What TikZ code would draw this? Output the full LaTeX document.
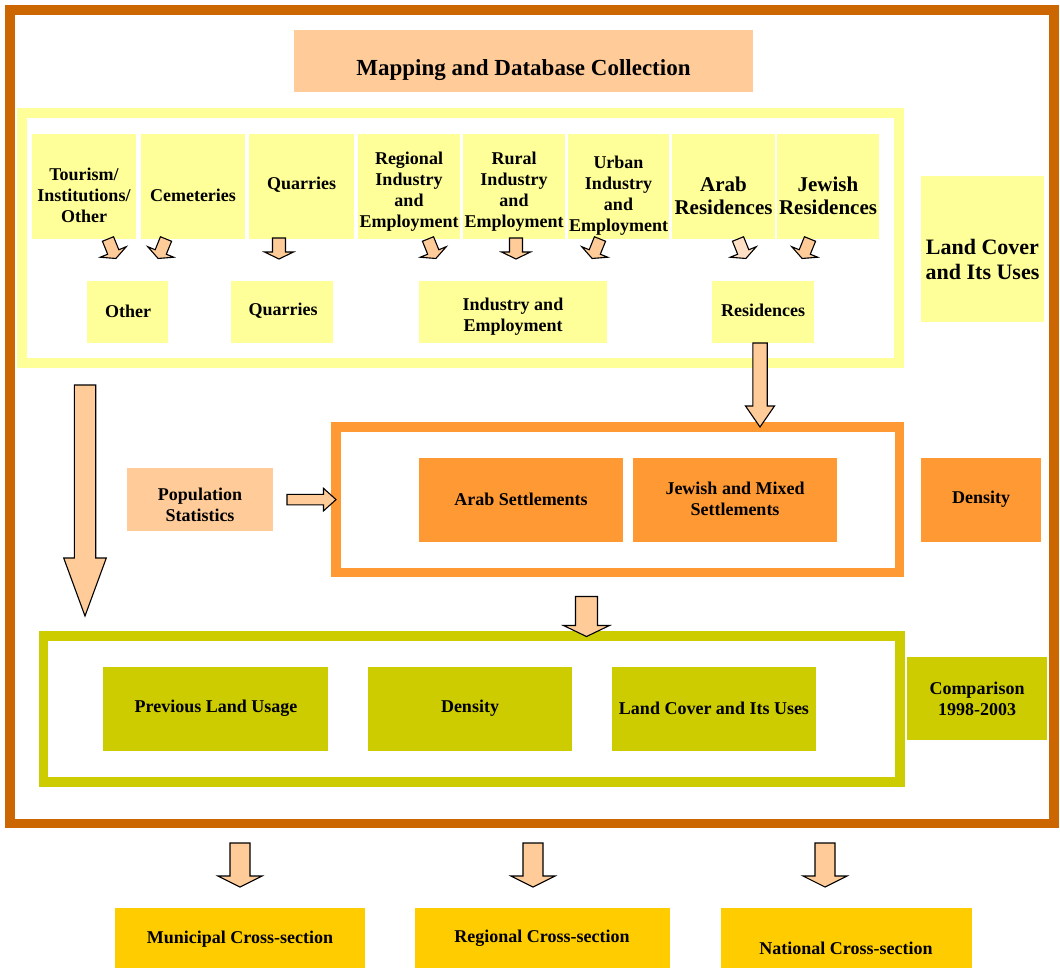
\documentclass[tikz,border=0pt]{standalone}
\usepackage{fontspec}
\setmainfont{Liberation Serif}
\definecolor{frameBrown}{HTML}{CC6600}
\definecolor{peach}{HTML}{FFCC99}
\definecolor{peachLight}{HTML}{FFE0C4}
\definecolor{lightYellow}{HTML}{FFFF99}
\definecolor{midOrange}{HTML}{FF9933}
\definecolor{oliveGreen}{HTML}{CCCC00}
\definecolor{goldBox}{HTML}{FFCC00}
\tikzset{
  box/.style n args={3}{fill=#1, draw=none, minimum width=#2, minimum height=#3, inner sep=0pt, outer sep=0pt},
  frame/.style n args={4}{draw=#1, line width=#2, minimum width=#3, minimum height=#4, inner sep=0pt, fill=none},
  txt/.style={font=\fontsize{18}{21}\selectfont\bfseries, align=center, inner sep=0pt, text=black, yshift=-2pt},
  bigtxt/.style={font=\fontsize{21}{22.7}\selectfont\bfseries, align=center, inner sep=0pt, text=black, yshift=-1pt},
  lctxt/.style={font=\fontsize{22}{25}\selectfont\bfseries, align=center, inner sep=0pt, text=black, yshift=-1pt},
  titletxt/.style={font=\fontsize{23}{27}\selectfont\bfseries, align=center, inner sep=0pt, text=black, yshift=-2pt},
  arrowshape/.style={draw=black, line width=1.1pt, fill=peach, line join=miter},
}
% block arrow: [opts]{x}{y}{rotation}{length}{shaft half width}{head half width}{head length}
\newcommand\blockarr[8][]{%
  \draw[arrowshape,#1,shift={(#2,#3)},rotate=#4]
    (-#6,0) -- (#6,0) -- (#6,{#5-#8}) -- (#7,{#5-#8}) -- (0,#5)
    -- (-#7,{#5-#8}) -- (-#6,{#5-#8}) -- cycle;}
\begin{document}
\begin{tikzpicture}[x=1pt,y=-1pt]
\path[use as bounding box, fill=white] (0,0) rectangle (1060,967);

% frames
\node[frame={frameBrown}{9.5pt}{1044pt}{813.5pt}] (fOuter) at (532,416.75) {};
\node[frame={lightYellow}{10pt}{877pt}{250pt}] (fYellow) at (460.5,238) {};
\node[frame={midOrange}{9.5pt}{563.5pt}{145.5pt}] (fOrange) at (617.5,499.5) {};
\node[frame={oliveGreen}{9.5pt}{856.5pt}{146pt}] (fGreen) at (471.75,709) {};

% title
\node[box={peach}{459pt}{62pt}] (bTitle) at (523.5,61) {};
\node[titletxt] (tTitle) at (523.5,68) {Mapping and Database Collection};

% top row
\node[box={lightYellow}{104pt}{105pt}] (bTour) at (84,186) {};
\node[box={lightYellow}{104pt}{105pt}] (bCem) at (193,186) {};
\node[box={lightYellow}{105pt}{105pt}] (bQua) at (301.5,186) {};
\node[box={lightYellow}{102pt}{105pt}] (bReg) at (409,186) {};
\node[box={lightYellow}{102pt}{105pt}] (bRur) at (514,186) {};
\node[box={lightYellow}{101pt}{105pt}] (bUrb) at (618.5,186) {};
\node[box={lightYellow}{103pt}{105pt}] (bArab) at (723.5,186) {};
\node[box={lightYellow}{102pt}{105pt}] (bJew) at (828,186) {};
\node[txt] (tTour) at (84,193) {Tourism/\\Institutions/\\Other};
\node[txt] (tCem) at (193,193) {Cemeteries};
\node[txt] (tQua) at (301.5,183) {Quarries};
\node[txt] (tReg) at (409,189.5) {Regional\\Industry\\and\\Employment};
\node[txt] (tRur) at (514,189.5) {Rural\\Industry\\and\\Employment};
\node[txt] (tUrb) at (618.5,194) {Urban\\Industry\\and\\Employment};
\node[bigtxt] (tArab) at (723.5,195) {Arab\\Residences};
\node[bigtxt] (tJew) at (828,195) {Jewish\\Residences};

% second row
\node[box={lightYellow}{81pt}{62pt}] (bOth) at (127.5,311.5) {};
\node[box={lightYellow}{102pt}{62pt}] (bQ2) at (282,311.5) {};
\node[box={lightYellow}{188pt}{62pt}] (bInd) at (513,311.5) {};
\node[box={lightYellow}{102pt}{62pt}] (bRes) at (763,311.5) {};
\node[txt] (tOth) at (128,309) {Other};
\node[txt] (tQ2) at (283,309) {Quarries};
\node[txt] (tInd) at (513,315) {Industry and\\Employment};
\node[txt] (tRes) at (763,308) {Residences};

% land cover label
\node[box={lightYellow}{123pt}{146pt}] (bLand) at (982.5,249) {};
\node[lctxt] (tLand) at (982.5,258) {Land Cover\\and Its Uses};

% middle row
\node[box={peach}{146pt}{63pt}] (bPop) at (200,499.5) {};
\node[txt] (tPop) at (200,503) {Population\\Statistics};
\node[box={midOrange}{204pt}{84pt}] (bArabS) at (521,500) {};
\node[txt] (tArabS) at (521,497) {Arab Settlements};
\node[box={midOrange}{204pt}{84pt}] (bJewS) at (735,500) {};
\node[txt] (tJewS) at (735,497) {Jewish and Mixed\\Settlements};
\node[box={midOrange}{119.5pt}{84pt}] (bDens) at (980.75,500) {};
\node[txt] (tDens) at (981,497) {Density};

% green row
\node[box={oliveGreen}{225pt}{84pt}] (bPrev) at (215.5,709) {};
\node[txt] (tPrev) at (216,706) {Previous Land Usage};
\node[box={oliveGreen}{204pt}{84pt}] (bDens2) at (470,709) {};
\node[txt] (tDens2) at (470,706) {Density};
\node[box={oliveGreen}{204pt}{84pt}] (bLC2) at (714,709) {};
\node[txt] (tLC2) at (714,706) {Land Cover and Its Uses};
\node[box={oliveGreen}{140pt}{83pt}] (bComp) at (977,698.5) {};
\node[txt] (tComp) at (977,697) {Comparison\\1998-2003};

% bottom row
\node[box={goldBox}{250pt}{60pt}] (bMun) at (240,937.5) {};
\node[txt] (tMun) at (240,937) {Municipal Cross-section};
\node[box={goldBox}{255pt}{60pt}] (bRegC) at (542,937.5) {};
\node[txt] (tRegC) at (542,936) {Regional Cross-section};
\node[box={goldBox}{251pt}{60pt}] (bNat) at (846,937.5) {};
\node[txt] (tNat) at (846,946) {National Cross-section};

% small arrows
\blockarr{108}{239}{22}{21}{6}{14}{7}
\blockarr{166}{239}{-22}{21}{6}{14}{7}
\blockarr{279}{238}{0}{21}{6.5}{14.5}{7}
\blockarr{428}{239}{22}{21}{6}{14}{7}
\blockarr{516}{238}{0}{21}{6.5}{14.5}{7}
\blockarr{600}{239}{-22}{21}{6}{14}{7}
\blockarr[fill=peachLight]{738}{239}{22}{21}{6}{14}{7}
\blockarr{810}{239}{-22}{21}{6}{14}{7}

% big arrows
\blockarr{85}{385}{0}{231}{10.7}{21.3}{58}
\blockarr{760}{343}{0}{84}{7.2}{14.5}{21}
\blockarr{287}{499.6}{90}{49}{5.3}{11.3}{12.5}
\blockarr{586.5}{596.5}{0}{40}{11}{23}{11}
\blockarr{240}{843}{0}{44}{10}{22}{11}
\blockarr{533}{843}{0}{44}{10}{22}{11}
\blockarr{825}{843}{0}{44}{10}{22}{11}
\end{tikzpicture}
\end{document}
